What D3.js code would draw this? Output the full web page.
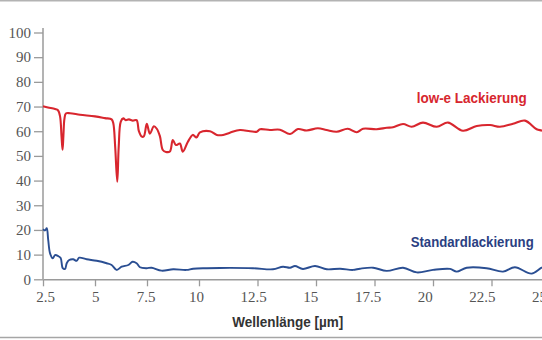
<!DOCTYPE html>
<html>
<head>
<meta charset="utf-8">
<script src="https://cdn.jsdelivr.net/npm/d3@7"></script>
<style>
  html, body { margin: 0; padding: 0; background: #fff; }
  svg { display: block; }
</style>
</head>
<body>
<svg id="chart" width="542" height="340"></svg>
<script>
// ---- data ----
const xTicks = [2.5, 5, 7.5, 10, 12.5, 15, 17.5, 20, 22.5, 25];
const yTicks = [0, 10, 20, 30, 40, 50, 60, 70, 80, 90, 100];

const lowEWavelength = [2.5, 2.74, 3.08, 3.22, 3.32, 3.39, 3.44, 3.48, 3.53, 3.60, 3.80, 4.28, 5.0, 5.48, 5.80, 5.88, 5.97, 6.07, 6.14, 6.24, 6.36, 6.48, 6.63, 6.82, 7.0, 7.11, 7.25, 7.35, 7.49, 7.64, 7.83, 7.97, 8.12, 8.26, 8.41, 8.60, 8.74, 8.89, 9.08, 9.22, 9.46, 9.70, 9.88, 10.04, 10.47, 10.76, 11.03, 11.32, 11.75, 12.18, 12.47, 12.61, 13.03, 13.46, 13.89, 14.23, 14.60, 15.08, 15.45, 15.88, 16.36, 16.74, 17.01, 17.59, 18.02, 18.29, 18.72, 19.09, 19.57, 20.16, 20.64, 21.28, 21.87, 22.44, 22.86, 23.42, 23.93, 24.43, 24.64, 25.0];
const lowEValues = [70.1, 69.6, 69.0, 68.5, 66.0, 58.0, 52.5, 58.0, 65.0, 67.2, 67.3, 66.7, 66.0, 65.3, 64.8, 63.2, 53.7, 39.5, 53.7, 63.9, 65.2, 64.5, 64.8, 64.3, 64.5, 60.0, 57.8, 58.0, 63.0, 59.0, 62.0, 61.0, 58.0, 52.4, 51.6, 51.8, 56.4, 54.4, 55.0, 51.7, 55.6, 58.5, 57.5, 59.5, 60.0, 58.5, 58.5, 59.4, 60.5, 60.0, 59.8, 60.8, 60.5, 60.6, 58.9, 60.9, 60.3, 61.2, 60.5, 59.8, 61.0, 59.6, 61.0, 60.8, 61.4, 61.6, 62.9, 61.8, 63.5, 61.8, 63.5, 60.2, 62.1, 62.5, 61.8, 63.0, 64.3, 60.8, 60.3, 59.5];

const standardWavelength = [2.5, 2.6, 2.68, 2.75, 2.84, 2.97, 3.08, 3.23, 3.35, 3.45, 3.56, 3.64, 3.76, 3.95, 4.12, 4.24, 4.60, 5.08, 5.56, 5.80, 6.04, 6.28, 6.60, 6.81, 7.0, 7.16, 7.48, 7.72, 8.20, 8.76, 9.40, 9.72, 10.33, 10.90, 12.31, 13.16, 13.59, 13.89, 14.10, 14.44, 14.96, 15.46, 16.03, 16.58, 16.88, 17.44, 18.02, 18.72, 19.31, 20.0, 20.73, 21.01, 21.44, 22.29, 22.99, 23.50, 24.21, 24.64, 25.0];
const standardValues = [20.3, 19.8, 20.7, 16.0, 10.5, 8.5, 9.8, 9.4, 8.6, 4.5, 4.2, 6.5, 7.8, 8.1, 7.5, 8.75, 8.1, 7.5, 6.5, 5.8, 3.8, 5.1, 5.8, 7.1, 6.5, 4.9, 4.5, 4.7, 3.5, 4.05, 3.8, 4.3, 4.5, 4.6, 4.5, 4.05, 5.1, 4.7, 5.4, 4.2, 5.4, 4.05, 4.3, 3.8, 4.3, 4.7, 3.4, 4.7, 2.8, 3.8, 4.2, 3.1, 4.7, 4.5, 3.1, 4.9, 2.3, 4.7, 6.0];

const lowELabel = "low-e Lackierung";
const standardLabel = "Standardlackierung";
const xTitle = "Wellenlänge [µm]";

// ---- drawing ----
const svg = d3.select("#chart");

// frame lines at top and bottom
svg.append("line").attr("x1", 0).attr("x2", 542).attr("y1", 0.5).attr("y2", 0.5)
  .attr("stroke", "#b3b3b3").attr("stroke-width", 2);
svg.append("line").attr("x1", 0).attr("x2", 542).attr("y1", 337.5).attr("y2", 337.5)
  .attr("stroke", "#a6a6a6").attr("stroke-width", 1.5);

// tick positions (the reference's x axis is stretched differently below and above 10)
const x = d3.scaleLinear().domain([2.5, 10, 25]).range([43, 199, 550]);
// tick-label positions (labels drift slightly left of their ticks in the reference)
const xLabel = d3.scaleLinear().domain([2.5, 10, 25]).range([45, 196, 539]);
const y = d3.scaleLinear().domain([0, 100]).range([279.3, 32.5]);

const axisColor = "#9a9a9a";
const tickFont = "'Liberation Serif', 'Times New Roman', serif";

// y axis
const yAxis = svg.append("g").attr("transform", `translate(${x(2.5)},0)`)
  .call(d3.axisLeft(y).tickValues(yTicks).tickSize(9).tickSizeOuter(0).tickPadding(3));
yAxis.select(".domain").remove();
yAxis.selectAll(".tick line").attr("stroke", axisColor).attr("stroke-width", 1.3);
yAxis.selectAll(".tick text").attr("fill", "#555")
  .attr("font-family", null).attr("font-size", null)
  .style("font-family", tickFont).style("font-size", "15px");
svg.append("line").attr("x1", x(2.5)).attr("x2", x(2.5)).attr("y1", y(101.8)).attr("y2", y(0))
  .attr("stroke", axisColor).attr("stroke-width", 1.5);

// x axis
const xAxis = svg.append("g").attr("transform", `translate(0,${y(0)})`)
  .call(d3.axisBottom(x).tickValues(xTicks).tickSize(7).tickSizeOuter(0).tickPadding(5)
    .tickFormat(d => String(d)));
xAxis.select(".domain").attr("stroke", axisColor).attr("stroke-width", 1.5);
xAxis.selectAll(".tick line").attr("stroke", axisColor).attr("stroke-width", 1.3);
xAxis.selectAll(".tick text").attr("fill", "#555")
  .attr("x", d => xLabel(d) - x(d))
  .style("font-family", tickFont).style("font-size", "15px");

// lines
const line = d3.line().x(d => x(d[0])).y(d => y(d[1])).curve(d3.curveCatmullRom.alpha(0.5));

svg.append("path")
  .datum(d3.zip(standardWavelength, standardValues))
  .attr("fill", "none").attr("stroke", "#2a4e92").attr("stroke-width", 1.9)
  .attr("stroke-linejoin", "round").attr("d", line);

svg.append("path")
  .datum(d3.zip(lowEWavelength, lowEValues))
  .attr("fill", "none").attr("stroke", "#d8262e").attr("stroke-width", 2.1)
  .attr("stroke-linejoin", "round").attr("d", line);

// labels
const labelFont = "'Liberation Sans', Arial, sans-serif";
svg.append("text").attr("x", 416.7).attr("y", 102.7)
  .attr("textLength", 110).attr("lengthAdjust", "spacingAndGlyphs")
  .style("font-family", labelFont).style("font-size", "14px").style("font-weight", "bold")
  .attr("fill", "#d7262e").text(lowELabel);

svg.append("text").attr("x", 410.7).attr("y", 247.3)
  .attr("textLength", 123).attr("lengthAdjust", "spacingAndGlyphs")
  .style("font-family", labelFont).style("font-size", "14px").style("font-weight", "bold")
  .attr("fill", "#2b3f82").text(standardLabel);

svg.append("text").attr("x", 232.3).attr("y", 326.7)
  .attr("textLength", 111).attr("lengthAdjust", "spacingAndGlyphs")
  .style("font-family", labelFont).style("font-size", "14px").style("font-weight", "bold")
  .attr("fill", "#333").text(xTitle);
</script>
</body>
</html>
